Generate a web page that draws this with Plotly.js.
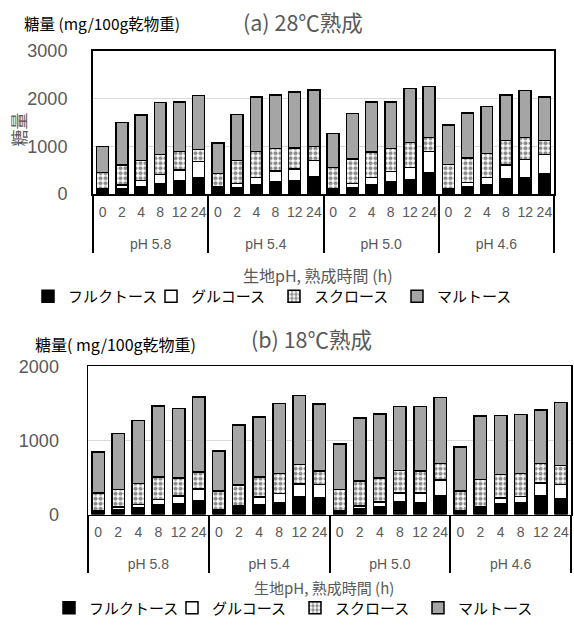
<!DOCTYPE html>
<html>
<head>
<meta charset="utf-8">
<script src="https://cdn.plot.ly/plotly-3.0.1.min.js"></script>
<style>html,body{margin:0;padding:0;background:#fff;}#chart{width:574px;height:625px;}</style>
</head>
<body>
<div id="chart"></div>
<script>
// ---- data ----
var phGroups = ['pH 5.8', 'pH 5.4', 'pH 5.0', 'pH 4.6'];
var times = ['0', '2', '4', '8', '12', '24'];
var sugarNames = ['フルクトース', 'グルコース', 'スクロース', 'マルトース'];

// (a) 28℃熟成  (mg/100g dry matter), order: pH5.8 x6, pH5.4 x6, pH5.0 x6, pH4.6 x6
var a_fructose = [100,120,160,217,273,343, 105,133,203,259,273,357, 105,140,189,259,301,441, 105,147,196,315,343,420];
var a_glucose  = [10,70,120,190,230,335,   40,84,147,224,251,342,   15,84,161,210,258,454,   15,98,154,293,377,405];
var a_sucrose  = [345,420,426,426,385,252, 287,482,538,475,441,301, 433,510,531,489,518,287, 502,510,503,511,469,294];
var a_maltose  = [545,890,944,1084,1042,1133, 636,965,1147,1112,1168,1182, 714,951,1042,972,1133,1070, 826,944,979,958,979,916];

// (b) 18℃熟成
var b_fructose = [50,68,90,126,140,189,  60,85,135,162,234,225, 50,81,108,171,162,257, 50,81,144,153,248,216];
var b_glucose  = [5,36,45,77,108,158,    8,28,99,122,180,180,   5,32,63,122,126,207,   5,23,81,90,180,189];
var b_sucrose  = [238,234,284,306,247,225, 247,288,275,270,261,180, 283,337,324,301,297,225, 260,369,315,311,261,257];
var b_maltose  = [549,756,851,958,932,1012, 545,805,805,945,927,905, 612,855,860,864,869,886, 594,855,797,796,720,846];

// ---- build multicategory x (leading line break gives the group row its extra spacing) ----
var xGroup = [], xTime = [];
phGroups.forEach(function (g) { times.forEach(function (t) { xGroup.push('<br>' + g); xTime.push(t); }); });
var xCats = [xGroup, xTime];

var FONT = 'Liberation Sans, Arial, Noto Sans CJK JP, sans-serif';
var JFONT = 'Noto Sans CJK JP, Liberation Sans, sans-serif';
var GRAY = '#595959';

var styles = [
  {color: '#000000'},
  {color: '#ffffff'},
  {color: '#ffffff', pattern: {shape: '.', fgcolor: '#8c8c8c', bgcolor: '#ffffff', size: 5, solidity: 0.55}},
  {color: '#a5a5a5'}
];

function mk(vals, i, xa, ya, legendId) {
  var m = {color: styles[i].color, line: {color: '#000', width: 1.5}};
  if (styles[i].pattern) m.pattern = styles[i].pattern;
  return {
    type: 'bar', x: xCats, y: vals, name: sugarNames[i],
    xaxis: xa, yaxis: ya, marker: m, legend: legendId, showlegend: true
  };
}

var traces = [
  mk(a_fructose, 0, 'x', 'y', 'legend'),
  mk(a_glucose, 1, 'x', 'y', 'legend'),
  mk(a_sucrose, 2, 'x', 'y', 'legend'),
  mk(a_maltose, 3, 'x', 'y', 'legend'),
  mk(b_fructose, 0, 'x2', 'y2', 'legend2'),
  mk(b_glucose, 1, 'x2', 'y2', 'legend2'),
  mk(b_sucrose, 2, 'x2', 'y2', 'legend2'),
  mk(b_maltose, 3, 'x2', 'y2', 'legend2')
];

function py(px) { return 1 - px / 625; }
function pxx(px) { return px / 574; }

var xBase = {
  type: 'multicategory', showline: true, mirror: true, linecolor: '#000', linewidth: 2,
  showdividers: true, dividercolor: '#000', dividerwidth: 2, tickangle: 0, ticklabelstandoff: 4,
  tickfont: {family: FONT, size: 14, color: GRAY}, ticks: '', showgrid: false, fixedrange: true
};
var yBase = {
  showline: true, mirror: true, linecolor: '#000', linewidth: 2,
  showgrid: true, gridcolor: '#d9d9d9', gridwidth: 1.5, zeroline: false,
  tickfont: {family: FONT, size: 18, color: GRAY}, ticks: '', fixedrange: true
};

var legFont = {family: JFONT, size: 15, color: '#000'};

var layout = {
  width: 574, height: 625,
  margin: {l: 0, r: 0, t: 0, b: 0},
  paper_bgcolor: '#fff', plot_bgcolor: '#fff',
  barmode: 'stack', bargap: 0.38,
  font: {family: FONT},
  xaxis: Object.assign({}, xBase, {domain: [pxx(93), pxx(554)], anchor: 'y'}),
  yaxis: Object.assign({}, yBase, {domain: [py(195), py(51)], range: [0, 3000], dtick: 1000, anchor: 'x', ticklabelstandoff: 20}),
  xaxis2: Object.assign({}, xBase, {domain: [pxx(88), pxx(571)], anchor: 'y2', linewidth: 1.5}),
  yaxis2: Object.assign({}, yBase, {domain: [py(517), py(368)], range: [0, 2000], dtick: 1000, anchor: 'x2', linewidth: 1.5, ticklabelstandoff: 24}),
  legend: {orientation: 'h', x: pxx(28), y: py(298), xanchor: 'left', yanchor: 'middle', entrywidth: 78, entrywidthmode: 'pixels',
    font: legFont, bgcolor: 'rgba(0,0,0,0)', traceorder: 'normal'},
  legend2: {orientation: 'h', x: pxx(49), y: py(611), xanchor: 'left', yanchor: 'middle', entrywidth: 78, entrywidthmode: 'pixels',
    font: legFont, bgcolor: 'rgba(0,0,0,0)', traceorder: 'normal'},
  annotations: [
    {text: '糖量 (mg/100g乾物重)', xref: 'paper', yref: 'paper', x: pxx(22), y: py(23),
      xanchor: 'left', yanchor: 'middle', showarrow: false, font: {family: JFONT, size: 15.5, color: '#000'}},
    {text: '(a) 28℃熟成', xref: 'paper', yref: 'paper', x: pxx(303), y: py(22),
      xanchor: 'center', yanchor: 'middle', showarrow: false, font: {family: JFONT, size: 21.5, color: GRAY}},
    {text: '糖量', xref: 'paper', yref: 'paper', x: pxx(18), y: py(130), textangle: -90,
      xanchor: 'center', yanchor: 'middle', showarrow: false, font: {family: JFONT, size: 17, color: GRAY}},
    {text: '生地pH, 熟成時間 (h)', xref: 'paper', yref: 'paper', x: pxx(318), y: py(276),
      xanchor: 'center', yanchor: 'middle', showarrow: false, font: {family: JFONT, size: 16, color: GRAY}},
    {text: '糖量( mg/100g乾物重)', xref: 'paper', yref: 'paper', x: pxx(33), y: py(346),
      xanchor: 'left', yanchor: 'middle', showarrow: false, font: {family: JFONT, size: 16, color: '#000'}},
    {text: '(b) 18℃熟成', xref: 'paper', yref: 'paper', x: pxx(311), y: py(340),
      xanchor: 'center', yanchor: 'middle', showarrow: false, font: {family: JFONT, size: 21.5, color: GRAY}},
    {text: '生地pH, 熟成時間 (h)', xref: 'paper', yref: 'paper', x: pxx(324), y: py(590),
      xanchor: 'center', yanchor: 'middle', showarrow: false, font: {family: JFONT, size: 15, color: GRAY}}
  ]
};

Plotly.newPlot('chart', traces, layout, {displayModeBar: false, staticPlot: true});
</script>
</body>
</html>
